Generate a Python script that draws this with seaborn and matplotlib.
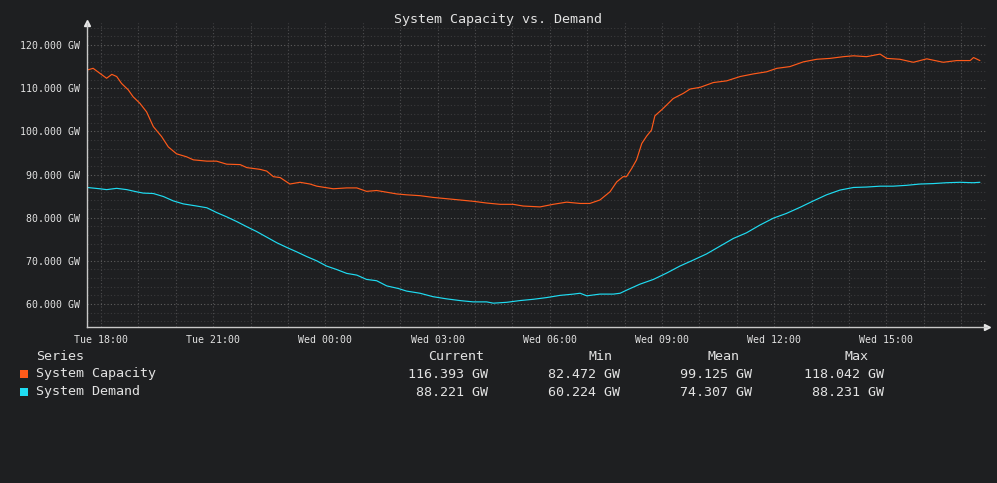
"""
System capacity vs demand, dark rrd-style chart
"""
import pandas as pd
import seaborn as sns
import matplotlib.pyplot as plt
import matplotlib.dates as mdates
from matplotlib.patches import Rectangle
from matplotlib.ticker import MultipleLocator, FuncFormatter

# hours after Tue 18:00 and values in GW
capacity_hours = [-0.37, -0.21, -0.07, 0.15, 0.29, 0.42, 0.55, 0.73, 0.86, 1.04,
                  1.22, 1.40, 1.62, 1.80, 2.02, 2.29, 2.47, 2.83, 3.09, 3.36,
                  3.72, 3.90, 4.25, 4.43, 4.61, 4.79, 5.05, 5.32, 5.59, 5.77,
                  6.21, 6.57, 6.84, 7.10, 7.37, 7.64, 7.91, 8.17, 8.53, 8.88,
                  9.24, 9.60, 9.95, 10.31, 10.67, 11.02, 11.29, 11.74, 12.09, 12.45,
                  12.81, 13.07, 13.34, 13.61, 13.79, 13.96, 14.05, 14.19, 14.32, 14.46,
                  14.59, 14.72, 14.81, 15.03, 15.30, 15.57, 15.75, 16.02, 16.37, 16.73,
                  17.09, 17.44, 17.80, 18.07, 18.42, 18.78, 19.14, 19.49, 19.85, 20.12,
                  20.47, 20.83, 21.01, 21.36, 21.72, 22.08, 22.52, 22.88, 23.24, 23.33,
                  23.50]
capacity_gw = [114.2, 114.6, 113.7, 112.3, 113.2, 112.7, 111.1, 109.6, 108.0, 106.5,
               104.5, 101.1, 98.8, 96.4, 94.8, 94.1, 93.4, 93.1, 93.1, 92.4,
               92.3, 91.6, 91.2, 90.8, 89.5, 89.3, 87.8, 88.2, 87.8, 87.3,
               86.7, 86.9, 86.9, 86.1, 86.3, 85.9, 85.5, 85.3, 85.1, 84.7,
               84.4, 84.1, 83.8, 83.4, 83.1, 83.1, 82.7, 82.5, 83.1, 83.6,
               83.3, 83.3, 84.1, 86.0, 88.3, 89.5, 89.5, 91.4, 93.4, 97.2,
               98.9, 100.3, 103.6, 105.3, 107.6, 108.8, 109.8, 110.2, 111.3, 111.7,
               112.7, 113.3, 113.8, 114.6, 115.0, 116.1, 116.7, 116.9, 117.3, 117.5,
               117.3, 117.9, 116.9, 116.7, 116.0, 116.8, 116.0, 116.4, 116.4, 117.1,
               116.4]

demand_hours = [-0.37, -0.03, 0.15, 0.42, 0.69, 0.95, 1.13, 1.40, 1.67, 1.93,
                2.20, 2.56, 2.83, 3.09, 3.36, 3.63, 3.90, 4.16, 4.43, 4.70,
                4.97, 5.23, 5.50, 5.77, 6.03, 6.30, 6.57, 6.84, 7.10, 7.37,
                7.64, 7.95, 8.17, 8.53, 8.88, 9.24, 9.60, 9.95, 10.31, 10.49,
                10.85, 11.20, 11.56, 11.92, 12.27, 12.63, 12.81, 12.99, 13.34, 13.70,
                13.88, 14.05, 14.41, 14.77, 15.13, 15.48, 15.84, 16.19, 16.55, 16.91,
                17.26, 17.62, 17.98, 18.33, 18.69, 19.05, 19.40, 19.76, 20.12, 20.47,
                20.83, 21.18, 21.54, 21.90, 22.25, 22.61, 22.97, 23.32, 23.50]
demand_gw = [87.0, 86.7, 86.5, 86.8, 86.5, 86.0, 85.7, 85.6, 84.9, 83.9,
             83.2, 82.7, 82.3, 81.2, 80.2, 79.1, 77.9, 76.8, 75.5, 74.2,
             73.1, 72.1, 71.0, 70.0, 68.8, 68.0, 67.1, 66.7, 65.7, 65.4,
             64.2, 63.6, 63.0, 62.5, 61.7, 61.2, 60.8, 60.5, 60.5, 60.2,
             60.4, 60.8, 61.1, 61.5, 62.0, 62.3, 62.5, 61.9, 62.3, 62.3,
             62.5, 63.2, 64.6, 65.7, 67.2, 68.8, 70.2, 71.6, 73.4, 75.2,
             76.5, 78.3, 79.9, 81.0, 82.4, 83.9, 85.3, 86.4, 87.0, 87.1,
             87.3, 87.3, 87.5, 87.8, 87.9, 88.1, 88.2, 88.1, 88.2]

series_names = ["System Capacity", "System Demand"]
series_colors = ["#ff5a1a", "#1fdcf2"]

stat_headers = ["Current", "Min", "Mean", "Max"]
capacity_stats = ["116.393 GW", "82.472 GW", "99.125 GW", "118.042 GW"]
demand_stats = ["88.221 GW", "60.224 GW", "74.307 GW", "88.231 GW"]

BG = "#1e1f21"
FG = "#e2e2e2"
W, H = 997, 483


def build_table():
    start = pd.Timestamp("2024-01-02 18:00")  # a Tuesday
    cap = pd.DataFrame({"hours": capacity_hours, "value": capacity_gw, "series": series_names[0]})
    dem = pd.DataFrame({"hours": demand_hours, "value": demand_gw, "series": series_names[1]})
    df = pd.concat([cap, dem], ignore_index=True)
    df["time"] = start + pd.to_timedelta(df["hours"], unit="h")
    return df, start


def px(x, y):
    return x / W, 1 - y / H


def main():
    df, start = build_table()

    sns.set_style("dark", {"axes.facecolor": BG, "figure.facecolor": BG})
    plt.rcParams["font.family"] = ["DejaVu Sans Mono"]

    fig = plt.figure(figsize=(W / 100, H / 100), dpi=100)
    left, top = px(87, 23)
    right, bottom = px(987, 327)
    ax = fig.add_axes([left, bottom, right - left, top - bottom])

    sns.lineplot(data=df, x="time", y="value", hue="series",
                 palette=dict(zip(series_names, series_colors)),
                 linewidth=0.85, legend=False, ax=ax)

    ax.set_xlim(start - pd.Timedelta(hours=0.374), start + pd.Timedelta(hours=23.69))
    ax.set_ylim(54.68, 125.1)

    ax.xaxis.set_major_locator(mdates.HourLocator(byhour=range(0, 24, 3)))
    ax.xaxis.set_minor_locator(mdates.HourLocator())
    ax.xaxis.set_major_formatter(mdates.DateFormatter("%a %H:%M"))
    ax.yaxis.set_major_locator(MultipleLocator(10))
    ax.yaxis.set_minor_locator(MultipleLocator(2))
    ax.yaxis.set_major_formatter(FuncFormatter(lambda v, p: f"{v:.3f} GW"))

    ax.grid(which="major", axis="y", color="#5e5e5e", linestyle=(0, (1, 2)), linewidth=0.8)
    ax.grid(which="minor", axis="y", color="#3a3a3c", linestyle=(0, (1, 2)), linewidth=0.8)
    ax.grid(which="both", axis="x", color="#4c4c4e", linestyle=(0, (1, 2)), linewidth=0.8)

    ax.tick_params(axis="both", which="both", colors="#9a9a9a", labelcolor=FG,
                   labelsize=7.1, width=0.8)
    ax.tick_params(axis="x", which="both", length=3, pad=3)
    ax.tick_params(axis="y", which="major", length=2, pad=3)
    ax.tick_params(axis="y", which="minor", length=0)

    for side in ["top", "right"]:
        ax.spines[side].set_visible(False)
    for side in ["left", "bottom"]:
        ax.spines[side].set_color("#c8c8c8")
        ax.spines[side].set_linewidth(1.0)
    ax.plot(0, 1, "^", color="#e8e8e8", markersize=4, transform=ax.transAxes, clip_on=False)
    ax.plot(1, 0, ">", color="#e8e8e8", markersize=4, transform=ax.transAxes, clip_on=False)

    ax.set_xlabel("")
    ax.set_ylabel("")

    fig.text(*px(498, 19), "System Capacity vs. Demand", color=FG, fontsize=9.6,
             ha="center", va="center")

    # legend table under the chart
    fig.text(*px(36, 356), "Series", color=FG, fontsize=9.6, ha="left", va="center")
    header_x = [456, 600, 723, 856]
    value_x = [488, 620, 752, 884]
    for hx, name in zip(header_x, stat_headers):
        fig.text(*px(hx, 356), name, color=FG, fontsize=9.6, ha="center", va="center")
    for row_y, name, color, stats in zip([374, 392], series_names, series_colors,
                                         [capacity_stats, demand_stats]):
        sx, sy = px(20, row_y + 4)
        fig.patches.append(Rectangle((sx, sy), 8 / W, 8 / H, transform=fig.transFigure,
                                     facecolor=color, edgecolor="none"))
        fig.text(*px(36, row_y), name, color=FG, fontsize=9.6, ha="left", va="center")
        for vx, s in zip(value_x, stats):
            fig.text(*px(vx, row_y), s, color=FG, fontsize=9.6, ha="right", va="center")

    fig.savefig("out.png", dpi=100, facecolor=BG)


if __name__ == "__main__":
    main()
